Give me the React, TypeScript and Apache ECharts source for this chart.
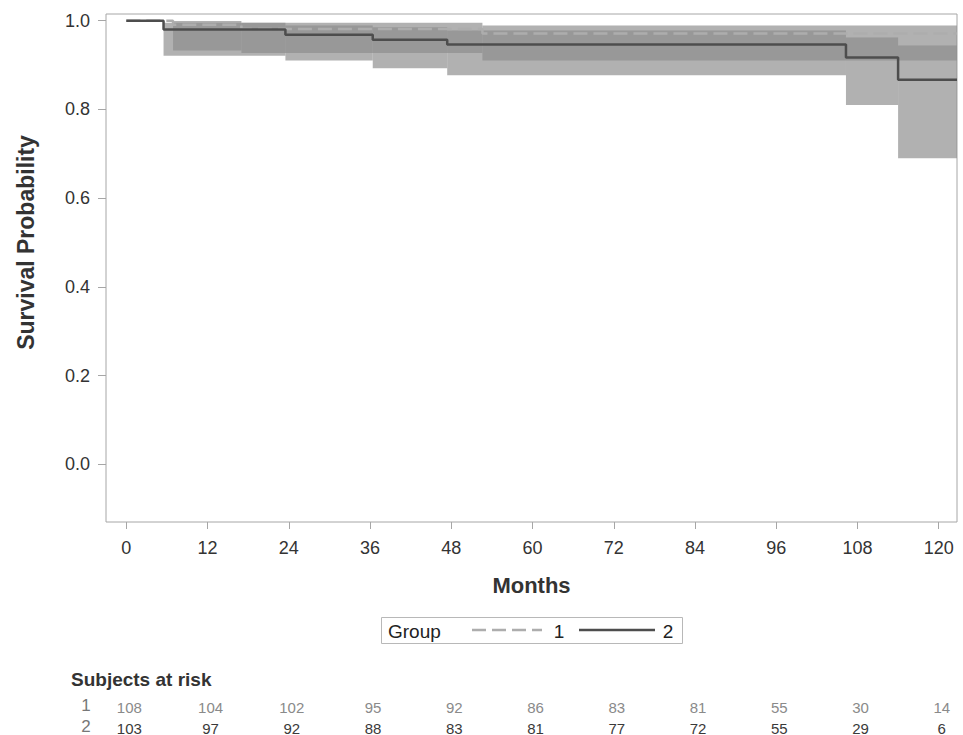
import React, { useEffect, useRef } from "react";
import * as echarts from "echarts";

// ---------- data ----------
const xTicks = [0, 12, 24, 36, 48, 60, 72, 84, 96, 108, 120];
const yTicks = [0, 0.2, 0.4, 0.6, 0.8, 1.0];
const groupNames = ["1", "2"];

// Group 1 Kaplan-Meier steps (value holds from time onward)
const g1Times = [0, 6.9, 17, 52.6];
const g1Surv = [1.0, 0.991, 0.981, 0.971];
const g1Lower = [1.0, 0.933, 0.927, 0.91];
const g1Upper = [1.0, 0.999, 0.995, 0.989];

// Group 2 Kaplan-Meier steps
const g2Times = [0, 5.5, 23.5, 36.4, 47.4, 106.3, 114];
const g2Surv = [1.0, 0.98, 0.968, 0.957, 0.946, 0.917, 0.867];
const g2Lower = [1.0, 0.921, 0.91, 0.893, 0.877, 0.81, 0.69];
const g2Upper = [1.0, 0.995, 0.989, 0.985, 0.978, 0.962, 0.944];

// Subjects at risk
const atRiskTimes = [0, 12, 24, 36, 48, 60, 72, 84, 96, 108, 120];
const atRisk1 = [108, 104, 102, 95, 92, 86, 83, 81, 55, 30, 14];
const atRisk2 = [103, 97, 92, 88, 83, 81, 77, 72, 55, 29, 6];

// ---------- layout ----------
const X_MIN = -3;
const X_MAX = 122.7;
const Y_MIN = -0.13;
const Y_MAX = 1.015;
const FONT = "'Liberation Sans', Arial, sans-serif";
const BAND_FILL = "rgba(140,140,140,0.68)";
const FRAME = "#a6a6a6";

function stepLine(times: number[], surv: number[]) {
  const pts = times.map((t, i) => [t, surv[i]]);
  pts.push([X_MAX, surv[surv.length - 1]]);
  return pts;
}

function bandRects(times: number[], lo: number[], hi: number[]) {
  const out: number[][] = [];
  times.forEach((t, i) => {
    if (hi[i] === lo[i]) return;
    const t1 = i + 1 < times.length ? times[i + 1] : X_MAX;
    out.push([t, t1, lo[i], hi[i]]);
  });
  return out;
}

const renderBand = (params: any, api: any) => {
  const p0 = api.coord([api.value(0), api.value(3)]);
  const p1 = api.coord([api.value(1), api.value(2)]);
  return {
    type: "rect",
    shape: { x: p0[0], y: p0[1], width: p1[0] - p0[0], height: p1[1] - p0[1] },
    style: { fill: BAND_FILL },
  };
};

export default function App() {
  const ref = useRef<HTMLDivElement>(null);

  useEffect(() => {
    if (!ref.current) return;
    const chart = echarts.init(ref.current, undefined, { renderer: "svg" });

    const option: any = {
      animation: false,
      backgroundColor: "#ffffff",
      textStyle: { fontFamily: FONT },
      grid: {
        left: 106,
        right: 6,
        top: 14,
        bottom: 213,
        show: true,
        borderColor: FRAME,
        borderWidth: 1,
        backgroundColor: "transparent",
      },
      xAxis: {
        type: "value",
        min: X_MIN,
        max: X_MAX,
        name: "Months",
        nameLocation: "middle",
        nameGap: 52,
        nameTextStyle: { fontFamily: FONT, fontSize: 22, fontWeight: "bold", color: "#333" },
        axisLine: { show: false, onZero: false },
        axisTick: { show: true, length: 7, lineStyle: { color: FRAME }, customValues: xTicks },
        axisLabel: {
          fontFamily: FONT,
          fontSize: 18,
          color: "#333",
          margin: 17,
          customValues: xTicks,
        },
        splitLine: { show: false },
      },
      yAxis: {
        type: "value",
        min: Y_MIN,
        max: Y_MAX,
        axisLine: { show: false, onZero: false },
        axisTick: { show: true, length: 8, lineStyle: { color: FRAME }, customValues: yTicks },
        axisLabel: {
          fontFamily: FONT,
          fontSize: 18,
          color: "#333",
          margin: 16,
          customValues: yTicks,
          formatter: (v: number) => v.toFixed(1),
        },
        splitLine: { show: false },
      },
      series: [
        {
          type: "custom",
          name: "band1",
          renderItem: renderBand,
          encode: { x: [0, 1], y: [2, 3] },
          data: bandRects(g1Times, g1Lower, g1Upper),
          z: 1,
          silent: true,
        },
        {
          type: "custom",
          name: "band2",
          renderItem: renderBand,
          encode: { x: [0, 1], y: [2, 3] },
          data: bandRects(g2Times, g2Lower, g2Upper),
          z: 1,
          silent: true,
        },
        {
          type: "line",
          name: groupNames[0],
          step: "end",
          data: stepLine(g1Times, g1Surv),
          showSymbol: false,
          lineStyle: { color: "#adadad", width: 2.5, type: [14, 6] },
          z: 3,
        },
        {
          type: "line",
          name: groupNames[1],
          step: "end",
          data: stepLine(g2Times, g2Surv),
          showSymbol: false,
          lineStyle: { color: "#4d4d4d", width: 2.5 },
          z: 4,
        },
      ],
    };
    chart.setOption(option);

    // second pass: text placed through the chart's own scales
    const px = (t: number) => chart.convertToPixel({ xAxisIndex: 0 }, t) as number;
    const py = (v: number) => chart.convertToPixel({ yAxisIndex: 0 }, v) as number;

    const graphics: any[] = [];
    graphics.push({
      type: "text",
      x: 26,
      y: py(0.5),
      rotation: Math.PI / 2,
      style: {
        text: "Survival Probability",
        font: `bold 23px ${FONT}`,
        fill: "#333",
        align: "center",
        verticalAlign: "middle",
      },
    });

    // legend
    const lgTop = 617;
    const lgBottom = 643;
    const lgMid = (lgTop + lgBottom) / 2;
    graphics.push({
      type: "rect",
      shape: { x: 381.5, y: lgTop + 0.5, width: 301, height: lgBottom - lgTop },
      style: { fill: "#fff", stroke: "#b8b8b8", lineWidth: 1 },
    });
    graphics.push({
      type: "text",
      x: 388,
      y: lgMid + 1,
      style: { text: "Group", font: `19px ${FONT}`, fill: "#222", verticalAlign: "middle" },
    });
    graphics.push({
      type: "line",
      shape: { x1: 472, y1: lgMid, x2: 542, y2: lgMid },
      style: { stroke: "#adadad", lineWidth: 2.5, lineDash: [14, 6] },
    });
    graphics.push({
      type: "text",
      x: 559,
      y: lgMid + 1,
      style: { text: groupNames[0], font: `19px ${FONT}`, fill: "#222", align: "center", verticalAlign: "middle" },
    });
    graphics.push({
      type: "line",
      shape: { x1: 579, y1: lgMid, x2: 655, y2: lgMid },
      style: { stroke: "#4d4d4d", lineWidth: 2.5 },
    });
    graphics.push({
      type: "text",
      x: 668,
      y: lgMid + 1,
      style: { text: groupNames[1], font: `19px ${FONT}`, fill: "#222", align: "center", verticalAlign: "middle" },
    });

    // subjects at risk
    graphics.push({
      type: "text",
      x: 71,
      y: 679,
      style: { text: "Subjects at risk", font: `bold 19px ${FONT}`, fill: "#333", verticalAlign: "middle" },
    });
    const rows = [
      { label: groupNames[0], vals: atRisk1, y: 707, color: "#8a8a8a" },
      { label: groupNames[1], vals: atRisk2, y: 728, color: "#3a3a3a" },
    ];
    rows.forEach((r) => {
      graphics.push({
        type: "text",
        x: 86,
        y: r.y - 2,
        style: { text: r.label, font: `17px ${FONT}`, fill: "#777", align: "center", verticalAlign: "middle" },
      });
      r.vals.forEach((v, i) => {
        graphics.push({
          type: "text",
          x: px(atRiskTimes[i]) + 3,
          y: r.y,
          style: { text: String(v), font: `15px ${FONT}`, fill: r.color, align: "center", verticalAlign: "middle" },
        });
      });
    });

    chart.setOption({ graphic: graphics });

    return () => chart.dispose();
  }, []);

  return (
    <div
      ref={ref}
      style={{ position: "fixed", left: 0, top: 0, width: 963, height: 735, background: "#fff" }}
    />
  );
}
